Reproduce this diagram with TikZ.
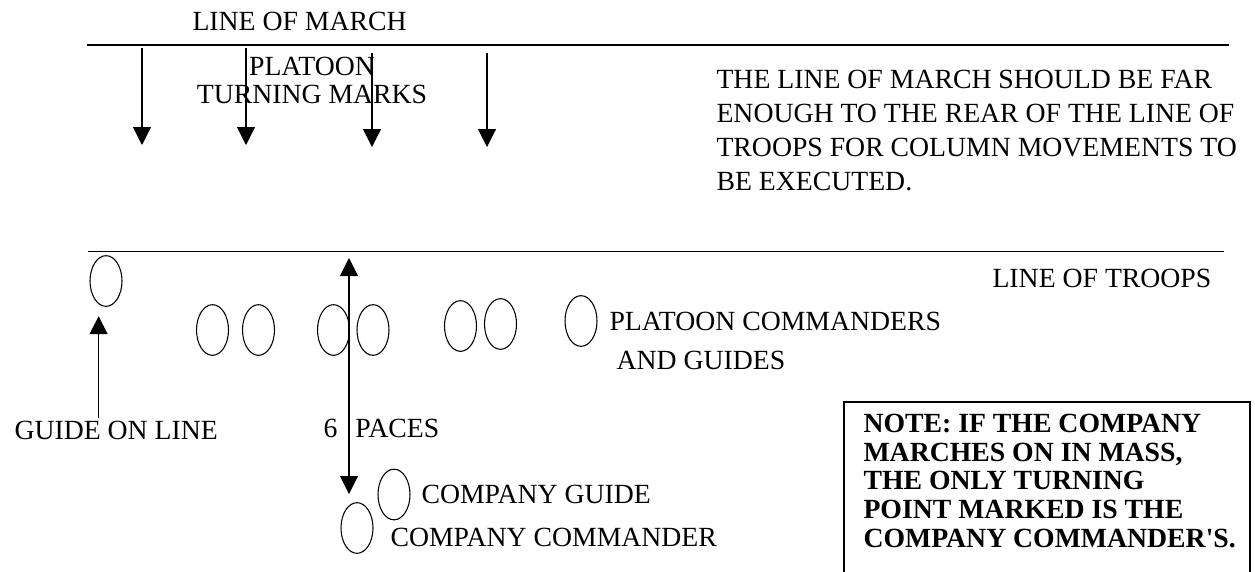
\documentclass[tikz,border=0pt]{standalone}
\usepackage{fontspec}
\setmainfont{Liberation Serif}
\usepackage{tikz}
\usetikzlibrary{arrows.meta, positioning, calc, shapes.geometric}

\tikzset{
  lbl/.style={font=\fontsize{20.8pt}{25.5pt}\selectfont, inner sep=0pt},
  man/.style={draw, ellipse, minimum width=24pt, minimum height=38pt, inner sep=0pt},
  tri/.style={-{Triangle[length=13.5pt,width=13.5pt]}},
  twotri/.style={{Triangle[length=13.5pt,width=13.5pt]}-{Triangle[length=13.5pt,width=13.5pt]}},
}

\begin{document}
\begin{tikzpicture}[x=0.75pt, y=-0.75pt, line width=0.8pt]
        \useasboundingbox (0,0) rectangle (1255,571);
        \clip (0,0) rectangle (1255,571);

        % line of march / line of troops
        \coordinate (lm1) at (87,45);
        \coordinate (lm2) at (1229,45);
        \coordinate (lt1) at (88,251.5);
        \coordinate (lt2) at (1224,251.5);
        \draw (lm1) -- (lm2);
        \draw (lt1) -- (lt2);

        \node[lbl, anchor=base west] (march) at (192,31) {LINE OF MARCH};
        \node[lbl, anchor=base west] (troops) at (992,287) {LINE OF TROOPS};

        % turning marks
        \foreach \x/\ya/\yb [count=\i] in {142/48/145, 246/48/145, 372/53/147, 487/53/147} {
            \coordinate (mt\i) at (\x,\ya);
            \coordinate (mb\i) at (\x,\yb);
            \draw[tri] (mt\i) -- (mb\i);
        }
        \node[lbl, font=\fontsize{20.8pt}{21pt}\selectfont, align=center, anchor=base] (turn) at (312,103) {PLATOON\\TURNING MARKS};

        \node[lbl, align=left, anchor=base west] (rear) at (716,190)
            {THE LINE OF MARCH SHOULD BE FAR\\ENOUGH TO THE REAR OF THE LINE OF\\TROOPS FOR COLUMN MOVEMENTS TO\\BE EXECUTED.};

        % guide on line
        \node[man] (guide) at (106,281) {};
        \node[lbl, anchor=base west] (gol) at (14,439) {GUIDE ON LINE};
        \coordinate (gtail) at (98.6,418);
        \draw[tri, shorten >=7pt] (gtail) -- (gtail |- guide.south);

        % platoon commanders and guides
        \foreach \x/\y [count=\i] in {212.5/330, 258.5/330, 333.5/330, 373/330, 460.5/326, 500.5/324, 581/321} {
            \node[man] (pc\i) at (\x,\y) {};
        }
        \node[lbl, anchor=base west] (pcl) at (609,330) {PLATOON COMMANDERS};
        \node[lbl, anchor=base west] (pcl2) at (616,369) {AND GUIDES};

        % 6 paces
        \coordinate (sixtop) at (349,258);
        \coordinate (sixbot) at (349,494);
        \draw[twotri] (sixtop) -- (sixbot);
        \node[lbl, anchor=base west] (six) at (323,437) {6\hspace{0.65em}PACES};

        % company guide and commander
        \node[man] (cg) at (394,494.5) {};
        \node[man] (cc) at (357,528) {};
        \node[lbl, anchor=base west] (cgl) at (421,503) {COMPANY GUIDE};
        \node[lbl, anchor=base west] (ccl) at (390,546) {COMPANY COMMANDER};

        % note
        \draw (844,402) rectangle (1250,600);
        \node[lbl, font=\fontsize{20.8pt}{21.5pt}\selectfont\bfseries, align=left, anchor=base west] (note) at (863,547)
            {NOTE: IF THE COMPANY\\MARCHES ON IN MASS,\\THE ONLY TURNING\\POINT MARKED IS THE\\COMPANY COMMANDER\textquotesingle S.};
    \end{tikzpicture}
\end{document}
